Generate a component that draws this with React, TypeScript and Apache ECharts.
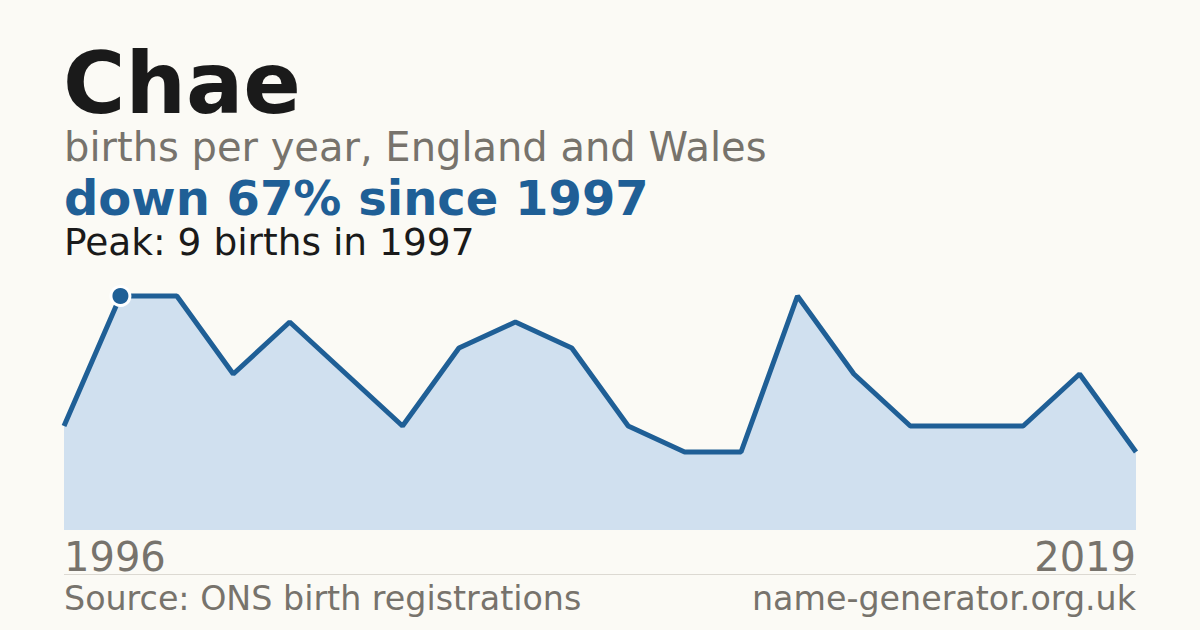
import React, { useEffect, useRef } from 'react'
import * as echarts from 'echarts'

// data
const years = [
  '1996', '1997', '1998', '1999', '2000', '2001', '2002', '2003', '2004', '2005',
  '2006', '2007', '2008', '2010', '2011', '2013', '2014', '2016', '2018', '2019'
]
const births = [4, 9, 9, 6, 8, 6, 4, 7, 8, 7, 4, 3, 3, 9, 6, 4, 4, 4, 6, 3]
const peakIndex = 1

const nameTitle = 'Chae'
const subTitle = 'births per year, England and Wales'
const changeText = 'down 67% since 1997'
const peakText = 'Peak: 9 births in 1997'
const sourceText = 'Source: ONS birth registrations'
const siteText = 'name-generator.org.uk'

const FONT = '"DejaVu Sans", Verdana, sans-serif'
const BLUE = '#1f5f96'
const GREY = '#77736c'

export default function App() {
  const chartRef = useRef<HTMLDivElement>(null)

  useEffect(() => {
    if (!chartRef.current) return
    document.body.style.margin = '0'
    const chart = echarts.init(chartRef.current, undefined, { renderer: 'svg' })

    const lastIndex = years.length - 1

    const option: echarts.EChartsOption = {
      animation: false,
      backgroundColor: '#fbfaf5',
      grid: { left: 64, right: 64, top: 296, bottom: 100 },
      xAxis: {
        type: 'category',
        data: years,
        boundaryGap: false,
        axisLine: { show: false },
        axisTick: { show: false },
        splitLine: { show: false },
        axisLabel: {
          interval: (i: number) => i === 0 || i === lastIndex,
          fontFamily: FONT,
          fontSize: 40,
          color: GREY,
          margin: 7,
          alignMinLabel: 'left',
          alignMaxLabel: 'right'
        } as any
      },
      yAxis: {
        type: 'value',
        min: 0,
        max: 9,
        show: false,
        splitLine: { show: false }
      },
      series: [
        {
          type: 'line',
          clip: false,
          symbol: 'none',
          symbolSize: 19,
          data: births.map((v, i) =>
            i === peakIndex
              ? {
                  value: v,
                  symbol: 'circle',
                  symbolSize: 19,
                  itemStyle: { color: BLUE, borderColor: '#ffffff', borderWidth: 3 }
                }
              : v
          ),
          lineStyle: { color: BLUE, width: 5 },
          areaStyle: { color: '#d0e0ef', opacity: 1 },
          z: 2
        }
      ],
      graphic: [
        {
          type: 'text',
          x: 63,
          y: 83,
          style: { text: nameTitle, font: `bold 85px ${FONT}`, fill: '#1a1a1a', verticalAlign: 'middle' }
        },
        {
          type: 'text',
          x: 64,
          y: 147,
          style: { text: subTitle, font: `40px ${FONT}`, fill: GREY, verticalAlign: 'middle' }
        },
        {
          type: 'text',
          x: 64,
          y: 198,
          style: { text: changeText, font: `bold 48px ${FONT}`, fill: BLUE, verticalAlign: 'middle' }
        },
        {
          type: 'text',
          x: 64,
          y: 242,
          style: { text: peakText, font: `37.5px ${FONT}`, fill: '#1a1a1a', verticalAlign: 'middle' }
        },
        {
          type: 'line',
          shape: { x1: 64, y1: 574.5, x2: 1136, y2: 574.5 },
          style: { stroke: '#dcd9d2', lineWidth: 1 }
        },
        {
          type: 'text',
          x: 64,
          y: 598,
          style: { text: sourceText, font: `33.3px ${FONT}`, fill: GREY, verticalAlign: 'middle' }
        },
        {
          type: 'text',
          x: 1136,
          y: 598,
          style: { text: siteText, font: `33.3px ${FONT}`, fill: GREY, align: 'right', verticalAlign: 'middle' }
        }
      ]
    }

    chart.setOption(option)
    return () => {
      chart.dispose()
    }
  }, [])

  return <div ref={chartRef} style={{ width: 1200, height: 630 }} />
}
